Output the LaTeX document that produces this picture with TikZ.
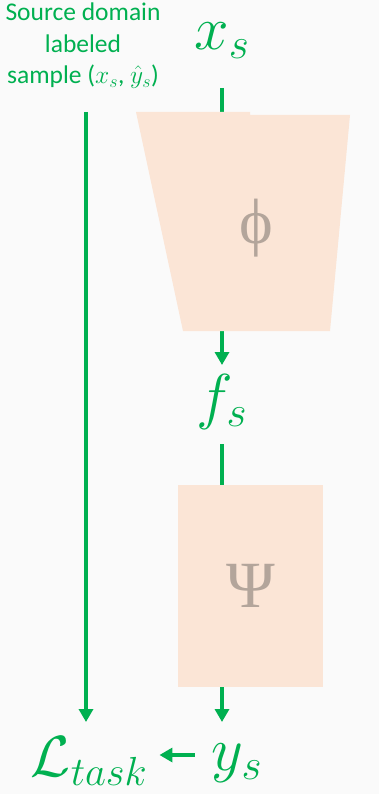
\RequirePackage{fix-cm}
\documentclass[tikz,border=0pt]{standalone}
\usepackage{fontspec}
\setmainfont{Carlito}
\newfontfamily\greekfont{Liberation Serif}
\usetikzlibrary{arrows.meta,positioning,calc}
\definecolor{srcgreen}{HTML}{00B050}
\definecolor{netfill}{HTML}{FBE5D6}
\definecolor{netletter}{HTML}{B3A59B}
\definecolor{bgpaper}{HTML}{FAFAFA}

\begin{document}
\begin{tikzpicture}[x=1pt,y=-1pt,
    var/.style={text=srcgreen,inner sep=0pt,font=\fontsize{62}{62}\selectfont},
    flow/.style={-{Triangle[length=13pt,width=14pt]},line width=4pt,srcgreen},
    netletter/.style={text=netletter,inner sep=0pt,font=\greekfont\fontsize{64}{64}\selectfont}]
  \fill[bgpaper] (0,0) rectangle (379,794);
  \node[var] (xs) at (222,41) {$x_s$};
  \node[var] (fs) at (222,402) {$f_s$};
  \node[var] (ys) at (237,763) {$y_s$};
  \node[var,font=\fontsize{58}{58}\selectfont] (loss) at (89,761) {$\mathcal{L}_{task}$};
  \node[text=srcgreen,align=center,inner sep=0pt,font=\fontsize{25.5}{31.5}\selectfont] (src) at (83,46)
    {Source domain\\labeled\\sample ($x_s$, $\hat{y}_s$)};
  \coordinate (srcfoot) at (86,112);
  % arrows first, the networks are drawn on top
  \draw[line width=4pt,srcgreen] (xs.south |- 0,88) -- (xs.south |- 0,200);
  \draw[flow] (xs.south |- 0,300) -- (xs.south |- 0,365);
  \draw[line width=4pt,srcgreen] (fs.south |- 0,444) -- (fs.south |- 0,500);
  \draw[flow] (fs.south |- 0,650) -- (fs.south |- 0,722);
  \draw[flow] (srcfoot) -- (srcfoot |- 0,722);
  \draw[flow,shorten <=17pt,shorten >=12pt] (ys.west |- 0,755) -- (loss.east |- 0,755);
  % feature extractor
  \fill[netfill] (136,112) -- (250,112) -- (250,115) -- (350,115) -- (330,331) -- (183,331) -- cycle;
  \node[netletter] (phi) at (256,228) {ϕ};
  % classifier
  \node[fill=netfill,minimum width=145pt,minimum height=202pt,inner sep=0pt] (psi) at (250.5,586) {};
  \node[netletter,font=\greekfont\fontsize{66}{66}\selectfont] at (psi) {Ψ};
\end{tikzpicture}
\end{document}
